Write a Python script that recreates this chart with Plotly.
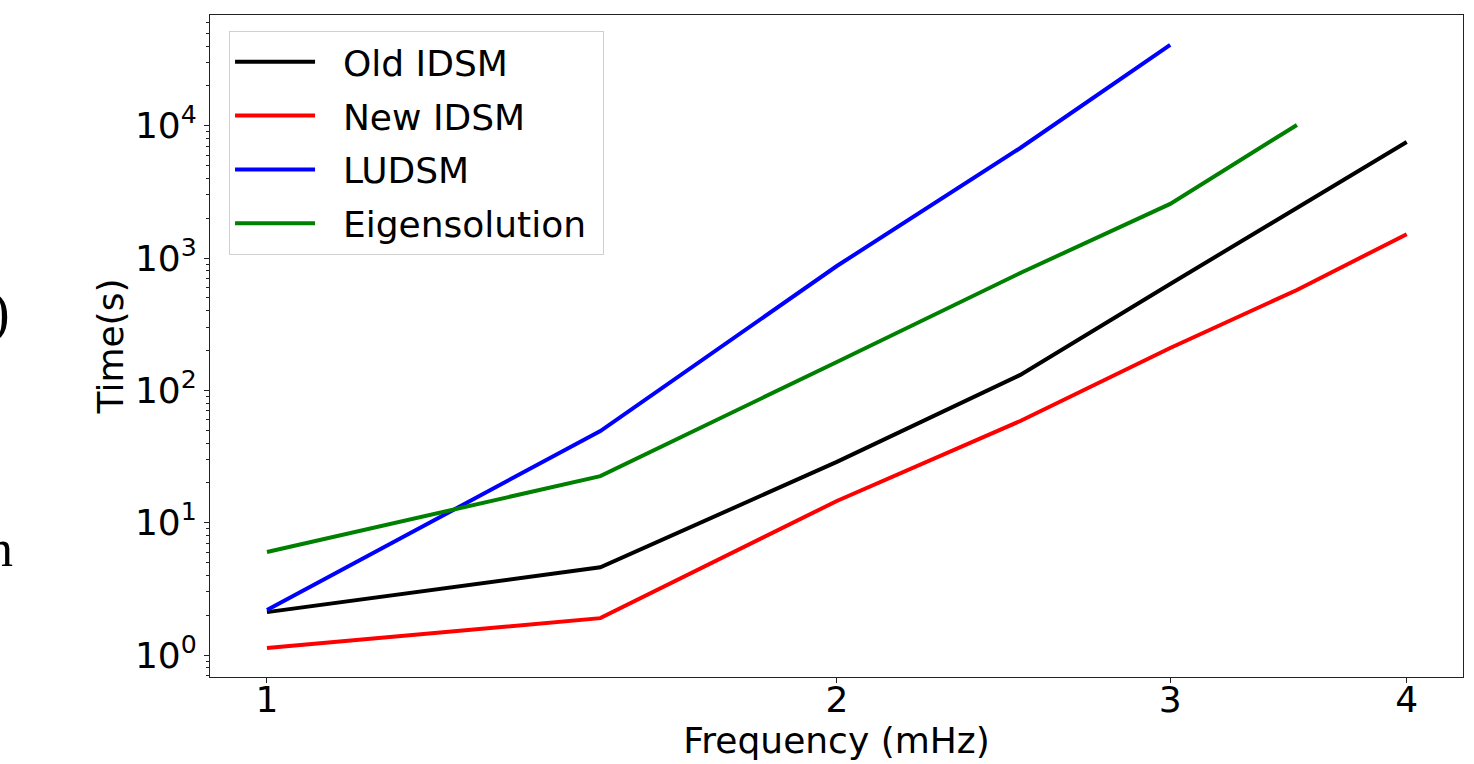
import plotly.graph_objects as go

freq = [1, 1.5, 2, 2.5, 3, 3.5, 4]
old_idsm = [2.11, 4.6, 28.8, 131, 637, 2390, 7540]
new_idsm = [1.13, 1.9, 14.6, 58.7, 209, 574, 1516]
ludsm_freq = [1, 1.5, 2, 2.5, 3]
ludsm = [2.19, 49.3, 871, 6790, 40800]
eig_freq = [1, 1.5, 2, 2.5, 3, 3.5]
eigen = [6.0, 22.5, 164, 771, 2566, 10140]

x_ticks = [1, 2, 3, 4]
x_ticklabels = ["1", "2", "3", "4"]
y_ticks = [1, 10, 100, 1000, 10000]
y_ticklabels = ["10<sup>0</sup>", "10<sup>1</sup>", "10<sup>2</sup>", "10<sup>3</sup>", "10<sup>4</sup>"]
y_minor = [m * 10 ** k for k in range(-1, 5) for m in range(2, 10)]

FONT = "DejaVu Sans"
NB = "\u00a0"
fig = go.Figure()
series = [
    ("Old IDSM", freq, old_idsm, "#000000"),
    ("New IDSM", freq, new_idsm, "#ff0000"),
    ("LUDSM", ludsm_freq, ludsm, "#0000ff"),
    ("Eigensolution", eig_freq, eigen, "#008000"),
]
for i, (name, xs, ys, col) in enumerate(series):
    fig.add_trace(go.Scatter(x=xs, y=ys, mode="lines", name=NB * 2 + name + NB,
                             line=dict(color=col, width=4), legendgroup=str(i)))

axis_common = dict(showline=True, linecolor="#222", linewidth=1, mirror=True,
                   ticks="outside", ticklen=5, tickcolor="#222", showgrid=False,
                   zeroline=False, automargin=False,
                   tickfont=dict(family=FONT, size=36, color="black"))
fig.update_xaxes(type="log", range=[-0.0301, 0.6318], tickvals=x_ticks, ticktext=x_ticklabels,
                 ticklabelstandoff=-14,
                 title=dict(text="Frequency (mHz)", font=dict(family=FONT, size=36, color="black"), standoff=4),
                 **axis_common)
fig.update_yaxes(type="log", range=[-0.166, 4.837], tickvals=y_ticks, ticktext=y_ticklabels,
                 minor=dict(ticks="outside", ticklen=3, tickcolor="#222", tickvals=y_minor, showgrid=False),
                 title=dict(text="Time(s)", font=dict(family=FONT, size=36, color="black"), standoff=0),
                 **axis_common)
fig.update_layout(
    width=1474, height=764, autosize=False,
    margin=dict(l=210, r=11, t=15, b=87),
    paper_bgcolor="white", plot_bgcolor="white",
    font=dict(family=FONT, size=36, color="black"),
    legend=dict(x=0.0152, y=0.976, xanchor="left", yanchor="top",
                bgcolor="white", bordercolor="#d0d0d0", borderwidth=1,
                font=dict(family=FONT, size=36, color="black"),
                itemwidth=80, tracegroupgap=4),
    showlegend=True,
)
fig.add_annotation(text=")", xref="paper", yref="paper", x=-210 / 1253, y=(677 - 312) / 662,
                   xanchor="center", yanchor="middle", showarrow=False,
                   font=dict(family="Liberation Serif", size=56, color="black"))
fig.add_annotation(text="n", xref="paper", yref="paper", x=-210 / 1253, y=(677 - 548) / 662,
                   xanchor="center", yanchor="middle", showarrow=False,
                   font=dict(family="Liberation Serif", size=52, color="black"))
fig.write_html("out.html")
